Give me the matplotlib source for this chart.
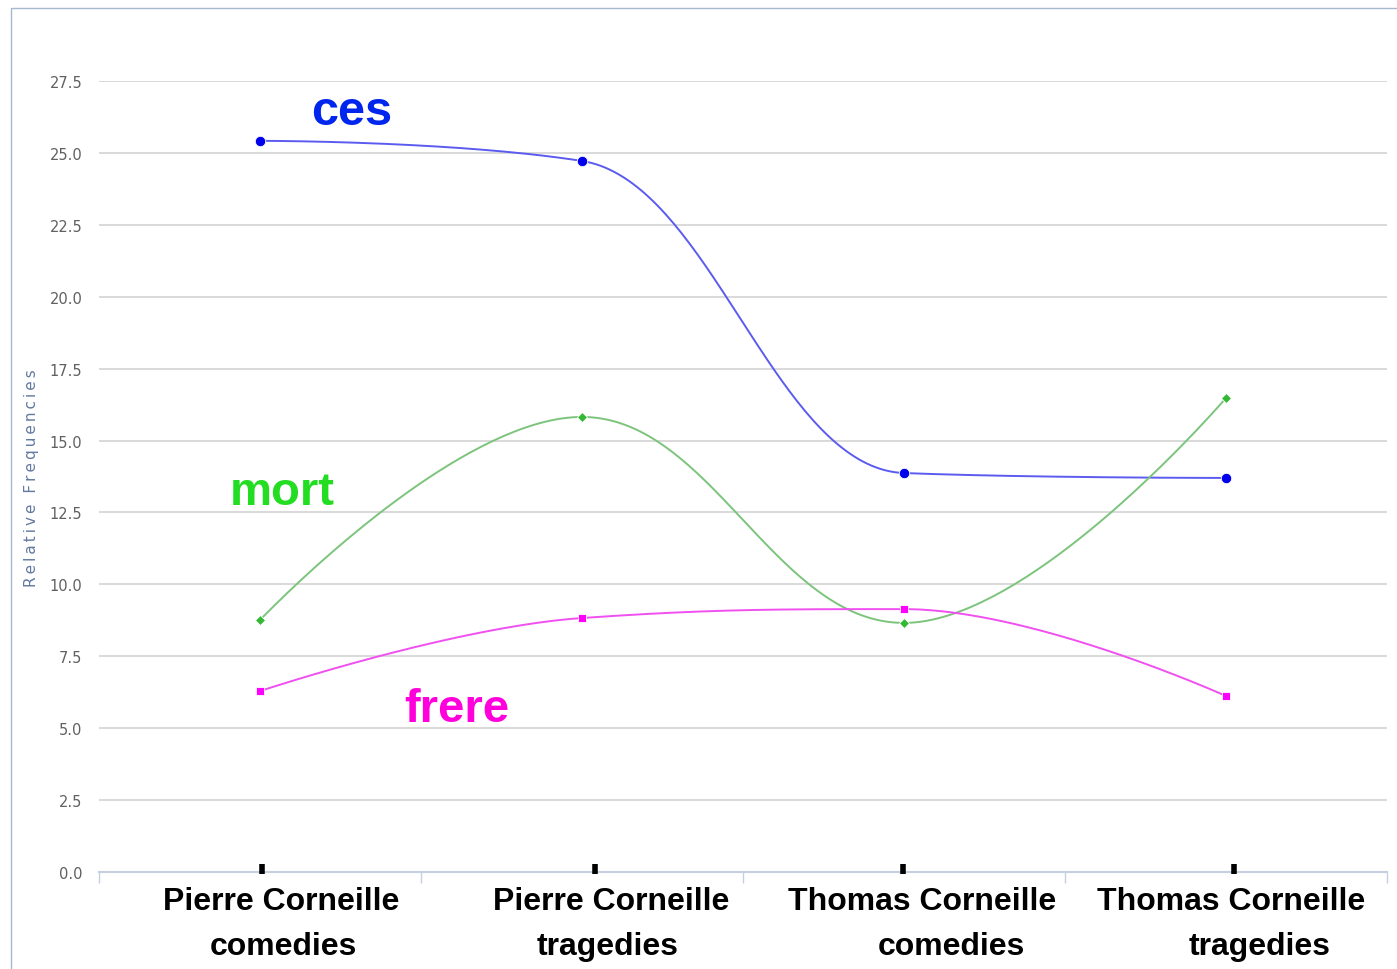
import matplotlib
matplotlib.use('Agg')
import matplotlib.pyplot as plt
from matplotlib.patches import Rectangle
from matplotlib.transforms import ScaledTranslation
import numpy as np

# data
categories = [('Pierre Corneille', 'comedies'), ('Pierre Corneille', 'tragedies'),
              ('Thomas Corneille', 'comedies'), ('Thomas Corneille', 'tragedies')]
ces = [25.42, 24.72, 13.87, 13.70]
mort = [8.76, 15.82, 8.66, 16.48]
frere = [6.29, 8.83, 9.14, 6.12]
y_ticks = [0.0, 2.5, 5.0, 7.5, 10.0, 12.5, 15.0, 17.5, 20.0, 22.5, 25.0, 27.5]

# label placement quirks of the original (pixels)
line1_dx = [21, 29, 18, 5]
line2_dx = [23, 26, 47, 34]
mark_dx = [2, 13, -1, 8]


def hc_spline(xs, ys, smoothing=1.5, n=80):
    # same control points as a highcharts spline series
    denom = smoothing + 1
    m = len(xs)
    lc = [(xs[i], ys[i]) for i in range(m)]
    rc = [(xs[i], ys[i]) for i in range(m)]
    for i in range(1, m - 1):
        x, y = xs[i], ys[i]
        lx, ly, nx, ny = xs[i - 1], ys[i - 1], xs[i + 1], ys[i + 1]
        lcx = (smoothing * x + lx) / denom
        lcy = (smoothing * y + ly) / denom
        rcx = (smoothing * x + nx) / denom
        rcy = (smoothing * y + ny) / denom
        corr = (rcy - lcy) * (rcx - x) / (rcx - lcx) + y - rcy
        lcy += corr
        rcy += corr
        if lcy > ly and lcy > y:
            lcy = max(ly, y); rcy = 2 * y - lcy
        elif lcy < ly and lcy < y:
            lcy = min(ly, y); rcy = 2 * y - lcy
        if rcy > ny and rcy > y:
            rcy = max(ny, y); lcy = 2 * y - rcy
        elif rcy < ny and rcy < y:
            rcy = min(ny, y); lcy = 2 * y - rcy
        lc[i] = (lcx, lcy)
        rc[i] = (rcx, rcy)
    t = np.linspace(0, 1, n)[:, None]
    out = []
    for i in range(1, m):
        p0 = np.array([xs[i - 1], ys[i - 1]])
        p1 = np.array(rc[i - 1])
        p2 = np.array(lc[i])
        p3 = np.array([xs[i], ys[i]])
        seg = ((1 - t) ** 3) * p0 + 3 * ((1 - t) ** 2) * t * p1 + 3 * (1 - t) * t ** 2 * p2 + t ** 3 * p3
        out.append(seg)
    pts = np.vstack(out)
    return pts[:, 0], pts[:, 1]


fig = plt.figure(figsize=(13.97, 9.70), dpi=100)
fig.patches.append(Rectangle((11 / 1397, -0.01), 1.1, 1 - 9 / 970 + 0.01, transform=fig.transFigure,
                             fill=False, edgecolor='#a7b8cf', linewidth=1.0))
ax = fig.add_axes([99 / 1397, 97 / 970, 1288 / 1397, 791 / 970])

x = np.arange(len(categories))
series = [
    (ces, '#5b5bf0', '#0000ee', 'o', 7.5),
    (mort, '#7cc47c', '#33b833', 'D', 5.5),
    (frere, '#f050f0', '#ff00ff', 's', 5.5),
]
for vals, lc_, mc, mk, ms in series:
    sx, sy = hc_spline(list(x), vals)
    ax.plot(sx, sy, color=lc_, linewidth=1.4, zorder=3)
    ax.plot(x, vals, linestyle='none', marker=mk, markersize=ms, color=mc,
            markeredgecolor='white', markeredgewidth=0.6, zorder=4)

ax.set_xlim(-0.5, len(categories) - 0.5)
ax.set_ylim(0, 27.5)
ax.set_yticks(y_ticks)
ax.set_yticklabels([f'{v:.1f}' for v in y_ticks], color='#606060', fontsize=10.5)
ax.tick_params(axis='y', length=0, pad=12)
ax.yaxis.grid(True, color='#d9d9d9', linewidth=1.4)
ax.set_axisbelow(True)
for s in ['left', 'right', 'top']:
    ax.spines[s].set_visible(False)
ax.spines['bottom'].set_color('#c4d0df')
ax.spines['bottom'].set_linewidth(1.5)
ax.spines['bottom'].set_zorder(2)

ax.set_xticks(np.arange(len(categories) + 1) - 0.5)
ax.set_xticklabels([])
ax.tick_params(axis='x', length=8, width=1, color='#c4d0df', direction='out')

# black marks just above the axis
for i, dx in enumerate(mark_dx):
    ax.plot([i], [0], marker='|', markersize=7, markeredgewidth=4, color='black',
            transform=ax.transData + ScaledTranslation(dx / 100, 3.5 / 100, fig.dpi_scale_trans),
            clip_on=False, zorder=5)

for i, (l1, l2) in enumerate(categories):
    ax.annotate(l1, xy=(i, 0), xycoords=('data', 'axes fraction'), xytext=(line1_dx[i], -29),
                textcoords='offset pixels', ha='center', va='center', fontsize=23,
                fontweight='bold', family='Liberation Sans', color='black')
    ax.annotate(l2, xy=(i, 0), xycoords=('data', 'axes fraction'), xytext=(line2_dx[i], -74),
                textcoords='offset pixels', ha='center', va='center', fontsize=23,
                fontweight='bold', family='Liberation Sans', color='black')

fig.text(32 / 1397, 1 - 478 / 970, '\u2009'.join('Relative Frequencies'), rotation=90,
         ha='center', va='center', fontsize=11, color='#6379a0')

# series names written on the plot
ax.text(0.285, 26.45, 'ces', color='#0026ee', fontsize=35, fontweight='bold',
        family='Liberation Sans', ha='center', va='center')
ax.text(0.07, 13.2, 'mort', color='#22dd22', fontsize=34, fontweight='bold',
        family='Liberation Sans', ha='center', va='center')
ax.text(0.61, 5.65, 'frere', color='#ff00dd', fontsize=34, fontweight='bold',
        family='Liberation Sans', ha='center', va='center')

fig.savefig('out.png', dpi=100)
